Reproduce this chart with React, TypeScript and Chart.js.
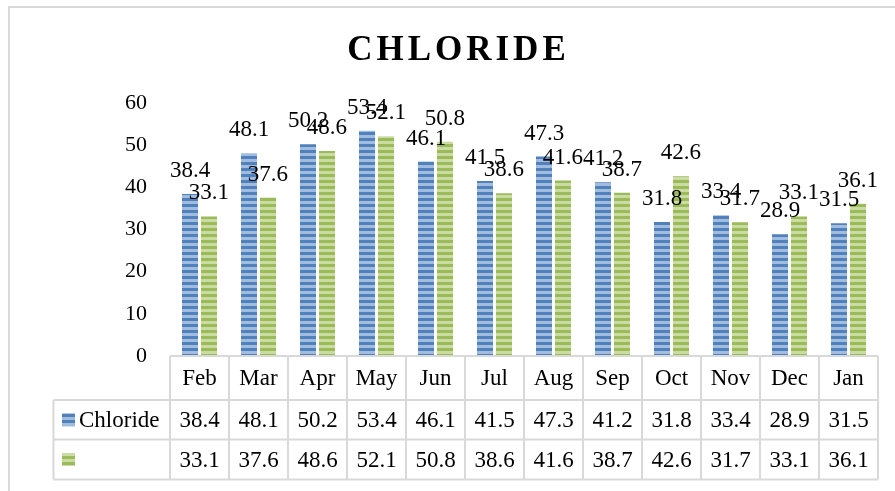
import React, { useEffect, useRef } from "react";
import { Chart, registerables } from "chart.js";

Chart.register(...registerables);

const months = ["Feb", "Mar", "Apr", "May", "Jun", "Jul", "Aug", "Sep", "Oct", "Nov", "Dec", "Jan"];
const chloride = [38.4, 48.1, 50.2, 53.4, 46.1, 41.5, 47.3, 41.2, 31.8, 33.4, 28.9, 31.5];
const series2 = [33.1, 37.6, 48.6, 52.1, 50.8, 38.6, 41.6, 38.7, 42.6, 31.7, 33.1, 36.1];
const seriesNames = ["Chloride", ""];
const title = "CHLORIDE";
const yMin = 0;
const yMax = 60;
const yStep = 10;

const FONT = '"Liberation Serif", "Times New Roman", serif';

function stripe(dark: string, light: string): CanvasPattern | string {
  const c = document.createElement("canvas");
  c.width = 6;
  c.height = 6;
  const g = c.getContext("2d");
  if (!g) return dark;
  g.fillStyle = dark;
  g.fillRect(0, 0, 6, 3);
  g.fillStyle = light;
  g.fillRect(0, 3, 6, 3);
  const p = g.createPattern(c, "repeat");
  return p || dark;
}

export default function App() {
  const ref = useRef<HTMLCanvasElement | null>(null);

  useEffect(() => {
    const canvas = ref.current;
    if (!canvas) return;
    const blue = stripe("#4F81BD", "#A3BCDD");
    const green = stripe("#9BBB59", "#CADBA4");
    const patterns = [blue, green];

    const overlay = {
      id: "overlay",
      beforeDraw(chart: any) {
        const ctx = chart.ctx;
        ctx.save();
        ctx.fillStyle = "#ffffff";
        ctx.fillRect(0, 0, chart.width, chart.height);
        ctx.strokeStyle = "#D9D9D9";
        ctx.lineWidth = 2;
        ctx.strokeRect(9, 7, chart.width + 20, chart.height + 20);
        ctx.restore();
      },
      afterDatasetsDraw(chart: any) {
        const ctx = chart.ctx;
        const area = chart.chartArea;
        const xs = chart.scales.x;
        ctx.save();
        // Title
        ctx.fillStyle = "#000";
        ctx.font = `bold 35px ${FONT}`;
        const spacing = 4;
        (ctx as any).letterSpacing = spacing + "px";
        const w = ctx.measureText(title).width;
        ctx.textAlign = "left";
        ctx.textBaseline = "alphabetic";
        ctx.fillText(title, chart.width * 0.51 - (w - spacing) / 2, 60);
        (ctx as any).letterSpacing = "0px";

        // Data labels
        ctx.font = `23px ${FONT}`;
        ctx.textAlign = "center";
        ctx.textBaseline = "middle";
        chart.data.datasets.forEach((ds: any, di: number) => {
          const meta = chart.getDatasetMeta(di);
          meta.data.forEach((bar: any, i: number) => {
            ctx.fillText(ds.data[i].toFixed(1), bar.x, bar.y - 23);
          });
        });

        // Data table
        const catW = (area.right - area.left) / months.length;
        const top = area.bottom;
        const r1 = top + 44;
        const r2 = r1 + 39.5;
        const r3 = r2 + 40;
        const labelLeft = 53.5;
        ctx.strokeStyle = "#D9D9D9";
        ctx.lineWidth = 2;
        ctx.beginPath();
        ctx.moveTo(area.left, top);
        ctx.lineTo(area.right, top);
        [r1, r2, r3].forEach((y) => {
          ctx.moveTo(labelLeft, y);
          ctx.lineTo(area.right, y);
        });
        ctx.moveTo(labelLeft, r1);
        ctx.lineTo(labelLeft, r3);
        for (let i = 0; i <= months.length; i++) {
          const x = area.left + catW * i;
          ctx.moveTo(x, top);
          ctx.lineTo(x, r3);
        }
        ctx.stroke();

        ctx.fillStyle = "#000";
        ctx.font = `23px ${FONT}`;
        ctx.textAlign = "center";
        ctx.textBaseline = "middle";
        const rows = [chloride, series2];
        months.forEach((m, i) => {
          const cx = xs.getPixelForValue(i);
          ctx.fillText(m, cx, (top + r1) / 2 + 1);
          ctx.fillText(rows[0][i].toFixed(1), cx, (r1 + r2) / 2 + 1);
          ctx.fillText(rows[1][i].toFixed(1), cx, (r2 + r3) / 2 + 1);
        });
        // Legend keys
        const rowMids = [(r1 + r2) / 2, (r2 + r3) / 2];
        rowMids.forEach((ym, k) => {
          ctx.fillStyle = patterns[k] as any;
          ctx.fillRect(62, ym - 6.5, 13, 13);
          ctx.fillStyle = "#000";
          ctx.textAlign = "left";
          ctx.fillText(seriesNames[k], 79, ym + 1);
        });
        ctx.restore();
      },
    };

    const chart = new Chart(canvas, {
      type: "bar",
      data: {
        labels: months,
        datasets: [
          {
            label: seriesNames[0],
            data: chloride,
            backgroundColor: blue as any,
            categoryPercentage: 0.644,
            barPercentage: 0.842,
          },
          {
            label: seriesNames[1],
            data: series2,
            backgroundColor: green as any,
            categoryPercentage: 0.644,
            barPercentage: 0.842,
          },
        ],
      },
      options: {
        animation: false,
        responsive: false,
        devicePixelRatio: 1,
        layout: { padding: { top: 103, bottom: 135, left: 0, right: 17 } },
        plugins: {
          legend: { display: false },
          title: { display: false },
          tooltip: { enabled: false },
        },
        scales: {
          x: { display: false },
          y: {
            min: yMin,
            max: yMax,
            ticks: {
              stepSize: yStep,
              color: "#000",
              font: { family: FONT, size: 22 },
              padding: 23,
            },
            grid: { display: false, drawTicks: false },
            border: { display: false },
            afterFit: (s: any) => {
              s.width = 170;
            },
          },
        },
      },
      plugins: [overlay],
    });
    return () => chart.destroy();
  }, []);

  return (
    <div style={{ position: "fixed", left: 0, top: 0, width: 895, height: 491 }}>
      <canvas ref={ref} width={895} height={491} />
    </div>
  );
}
